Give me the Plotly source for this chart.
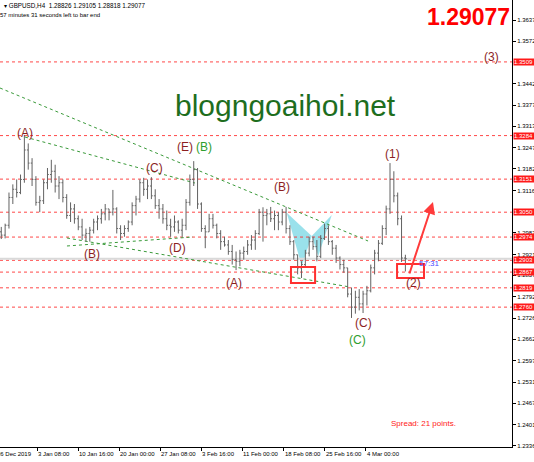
import plotly.graph_objects as go

# ---------------- data ----------------
open_ = [1.2990,1.2980,1.3010,1.3095,1.3120,1.3110,1.3150,1.3240,1.3200,1.3150,
 1.3080,1.3085,1.3140,1.3165,1.3175,1.3130,1.3140,1.3095,1.3040,1.3060,
 1.3030,1.3005,1.2980,1.2985,1.2995,1.3020,1.3030,1.3045,1.3060,1.3050,
 1.3060,1.3000,1.2985,1.3000,1.3020,1.3070,1.3090,1.3140,1.3120,1.3130,
 1.3100,1.3070,1.3060,1.3030,1.3010,1.3005,1.3020,1.2995,1.3010,1.3080,
 1.3150,1.3180,1.3075,1.3000,1.2990,1.3030,1.3010,1.2985,1.2960,1.2950,
 1.2930,1.2905,1.2900,1.2925,1.2930,1.2950,1.2965,1.2985,1.3050,1.3040,
 1.3045,1.3030,1.3040,1.3020,1.3050,1.3000,1.2960,1.2920,1.2880,1.2890,
 1.2925,1.2960,1.2945,1.2915,1.2970,1.3000,1.2960,1.2940,1.2910,1.2890,
 1.2880,1.2800,1.2760,1.2790,1.2770,1.2800,1.2810,1.2880,1.2925,1.2955,
 1.3000,1.3060,1.3150,1.3100,1.3030,1.2910]
high = [1.3005,1.3015,1.3110,1.3135,1.3150,1.3165,1.3286,1.3260,1.3215,1.3160,
 1.3100,1.3150,1.3185,1.3210,1.3195,1.3160,1.3150,1.3105,1.3080,1.3075,
 1.3040,1.3030,1.3000,1.3005,1.3030,1.3040,1.3060,1.3075,1.3060,1.3118,
 1.3065,1.3010,1.3010,1.3025,1.3080,1.3100,1.3150,1.3155,1.3150,1.3157,
 1.3120,1.3090,1.3075,1.3055,1.3030,1.3040,1.3025,1.3030,1.3090,1.3165,
 1.3206,1.3185,1.3080,1.3010,1.3045,1.3045,1.3015,1.2995,1.2975,1.2965,
 1.2950,1.2930,1.2935,1.2945,1.2965,1.2980,1.2995,1.3060,1.3065,1.3060,
 1.3066,1.3055,1.3050,1.3060,1.3066,1.3010,1.2965,1.2920,1.2900,1.2935,
 1.2975,1.2975,1.2965,1.2980,1.3015,1.3010,1.2965,1.2950,1.2915,1.2905,
 1.2880,1.2820,1.2810,1.2815,1.2810,1.2825,1.2890,1.2935,1.2965,1.3010,
 1.3070,1.3200,1.3175,1.3110,1.3040,1.2920]
low = [1.2968,1.2970,1.3000,1.3075,1.3095,1.3105,1.3140,1.3180,1.3130,1.3070,
 1.3050,1.3075,1.3120,1.3140,1.3110,1.3090,1.3080,1.3030,1.3020,1.3015,
 1.2995,1.2965,1.2960,1.2960,1.2985,1.2995,1.3015,1.3025,1.3025,1.3040,
 1.2985,1.2965,1.2975,1.2990,1.3010,1.3040,1.3080,1.3100,1.3090,1.3090,
 1.3060,1.3030,1.3015,1.2995,1.2975,1.2990,1.2985,1.2975,1.2995,1.3070,
 1.3130,1.3060,1.2990,1.2940,1.2990,1.3000,1.2970,1.2935,1.2945,1.2920,
 1.2890,1.2873,1.2885,1.2905,1.2920,1.2935,1.2935,1.2980,1.2960,1.3010,
 1.3020,1.2995,1.2995,1.3010,1.2985,1.2950,1.2905,1.2860,1.2849,1.2885,
 1.2915,1.2935,1.2900,1.2910,1.2965,1.2950,1.2920,1.2895,1.2875,1.2865,
 1.2790,1.2727,1.2740,1.2750,1.2742,1.2765,1.2805,1.2860,1.2900,1.2950,
 1.2980,1.3045,1.3080,1.3010,1.2898,1.2869]
close = [1.2980,1.3010,1.3095,1.3120,1.3110,1.3150,1.3240,1.3200,1.3150,1.3080,
 1.3085,1.3140,1.3165,1.3175,1.3130,1.3140,1.3095,1.3040,1.3060,1.3030,
 1.3005,1.2980,1.2985,1.2995,1.3020,1.3030,1.3045,1.3060,1.3050,1.3060,
 1.3000,1.2985,1.3000,1.3020,1.3070,1.3090,1.3140,1.3120,1.3130,1.3100,
 1.3070,1.3060,1.3030,1.3010,1.3005,1.3020,1.2995,1.3010,1.3080,1.3150,
 1.3180,1.3075,1.3000,1.2990,1.3030,1.3010,1.2985,1.2960,1.2950,1.2930,
 1.2905,1.2900,1.2925,1.2930,1.2950,1.2965,1.2985,1.3050,1.3040,1.3045,
 1.3030,1.3040,1.3020,1.3050,1.3000,1.2960,1.2920,1.2880,1.2890,1.2925,
 1.2960,1.2945,1.2915,1.2970,1.3000,1.2960,1.2940,1.2910,1.2890,1.2880,
 1.2800,1.2760,1.2790,1.2770,1.2800,1.2810,1.2880,1.2925,1.2955,1.3000,
 1.3060,1.3150,1.3100,1.3030,1.2910,1.2908]
# each drawn bar covers 3 H4 bars; x is the H4 bar index
bar_x = list(range(1, 3 * len(close), 3))

time_tick_idx = [-3, 29, 61, 93, 125, 157, 189, 221, 253, 285]
time_tick_lbl = ["26 Dec 2019", "3 Jan 08:00", "10 Jan 16:00", "20 Jan 00:00", "27 Jan 08:00",
                 "3 Feb 16:00", "11 Feb 00:00", "18 Feb 08:00", "25 Feb 16:00", "4 Mar 00:00"]
price_tick_lbl = ["1.3637", "1.3572", "1.3442", "1.3377", "1.3313", "1.3247", "1.3182", "1.3116",
                  "1.2987", "1.2921", "1.2857", "1.2792", "1.2726", "1.2662", "1.2597", "1.2531",
                  "1.2467", "1.2401", "1.2336"]
levels = [1.3509, 1.3284, 1.3151, 1.3050, 1.2974, 1.2903, 1.2867, 1.2819, 1.2760]
bid = 1.29077

wave_lbl = ["(A)", "(B)", "(C)", "(D)", "(E)", "(B)", "(A)", "(B)", "(C)", "(C)", "(1)", "(2)", "(3)"]
wave_x = [19.5, 71.7, 120.8, 138.0, 144.2, 159.0, 182.4, 219.8, 283.0, 278.3, 305.6, 322.0, 383.5]
wave_y = [1.3292, 1.2922, 1.3185, 1.2941, 1.3249, 1.3249, 1.2834, 1.3127, 1.2712, 1.2660, 1.3228, 1.2834, 1.3524]
wave_green = [False, False, False, False, False, True, False, False, False, True, False, False, False]

trend_lines = [((0, 1.34293), (286.9, 1.2962)),
               ((19.5, 1.32796), (152.0, 1.31391)),
               ((52.2, 1.29712), (272.8, 1.28215)),
               ((52.2, 1.29468), (150.5, 1.29743))]
wing_left = [(223.5, 1.30480), (235.2, 1.28850), (243.0, 1.29773)]
wing_right = [(243.0, 1.29773), (248.1, 1.29160), (258.6, 1.30414)]
boxes = [((226.8, 1.28826), (245.6, 1.28337)), ((309.5, 1.28917), (330.5, 1.28490))]
arrow_from = (318.8, 1.28581)
arrow_to = (337.5, 1.30811)

X0, X1 = 0, 399.1
Y0, Y1 = 1.23328, 1.36981

BROWN = "#8c1f1f"
GREEN = "#2e9e2e"
FONT = "Liberation Sans"

fig = go.Figure()

# butterfly wings (background)
for wing in (wing_left, wing_right):
    path = "M " + " L ".join(f"{x},{y}" for x, y in wing) + " Z"
    fig.add_shape(type="path", path=path, fillcolor="rgba(120,215,228,0.75)",
                  line=dict(width=0), layer="below")

# horizontal levels
for lv in levels:
    fig.add_shape(type="line", x0=X0, x1=X1, y0=lv, y1=lv, layer="below",
                  line=dict(color="rgba(255,40,40,0.85)", width=1, dash="3px,3px"))
fig.add_shape(type="line", x0=X0, x1=X1, y0=bid, y1=bid, layer="below",
              line=dict(color="#d9d9d9", width=2))

# green trend lines
for (a, b) in trend_lines:
    fig.add_shape(type="line", x0=a[0], y0=a[1], x1=b[0], y1=b[1], layer="below",
                  line=dict(color="#3a9a3a", width=1, dash="dot"))

fig.add_trace(go.Ohlc(x=bar_x, open=open_, high=high, low=low, close=close,
                      increasing=dict(line=dict(color="#626262", width=1)),
                      decreasing=dict(line=dict(color="#626262", width=1)),
                      tickwidth=0.35, hoverinfo="skip", showlegend=False))

# red boxes
for (a, b) in boxes:
    fig.add_shape(type="rect", x0=a[0], y0=a[1], x1=b[0], y1=b[1],
                  line=dict(color="#ff3030", width=2), fillcolor="rgba(0,0,0,0)")

# arrow
fig.add_annotation(x=arrow_to[0], y=arrow_to[1], ax=arrow_from[0], ay=arrow_from[1],
                   axref="x", ayref="y", xref="x", yref="y", text="", showarrow=True,
                   arrowhead=2, arrowsize=1.2, arrowwidth=2, arrowcolor="#ff3b3b")

# wave labels
for t, x, y, g in zip(wave_lbl, wave_x, wave_y, wave_green):
    fig.add_annotation(x=x, y=y, text=t, showarrow=False,
                       font=dict(family=FONT, size=12, color=GREEN if g else BROWN))

# countdown
fig.add_annotation(x=334.5, y=1.28948, text="57:31", showarrow=False,
                   font=dict(family=FONT, size=8, color="#4a4aff"))

# time labels (left-aligned at the tick, MT4 style)
for ti, tl in zip(time_tick_idx, time_tick_lbl):
    fig.add_annotation(x=(ti - X0) / (X1 - X0), y=0, xref="paper", yref="paper", text=tl,
                       showarrow=False, xanchor="left", yanchor="top", xshift=-1, yshift=-2,
                       font=dict(family=FONT, size=6, color="#000000"))

# price level labels on the axis
for lv in levels:
    fig.add_annotation(x=1, y=lv, xref="paper", yref="y", text=f"{lv:.4f}&nbsp;&nbsp;&nbsp;",
                       showarrow=False, xanchor="left", yanchor="middle", xshift=1,
                       bgcolor="#ff1a1a", borderpad=0,
                       font=dict(family=FONT, size=6, color="#ffffff"))

# header texts
fig.add_annotation(x=0, y=1, xref="paper", yref="paper", xanchor="left", yanchor="top",
                   xshift=2, yshift=0, showarrow=False,
                   text="▾ GBPUSD,H4  1.28826 1.29105 1.28818 1.29077",
                   font=dict(family=FONT, size=6.3, color="#000000"))
fig.add_annotation(x=0, y=1, xref="paper", yref="paper", xanchor="left", yanchor="top",
                   xshift=-2, yshift=-10, showarrow=False,
                   text="57 minutes 31 seconds left to bar end",
                   font=dict(family=FONT, size=6, color="#000000"))
fig.add_annotation(x=1, y=1, xref="paper", yref="paper", xanchor="right", yanchor="top",
                   xshift=0, yshift=-2, showarrow=False, text="<b>1.29077</b>",
                   font=dict(family=FONT, size=23, color="#ff0000"))
fig.add_annotation(x=0.557, y=1.3375, xref="paper", yref="y", showarrow=False,
                   text="blogngoaihoi.net",
                   font=dict(family=FONT, size=30, color="#1e6e1e"))
fig.add_annotation(x=0.895, y=1.2406, xref="paper", yref="y", showarrow=False,
                   text="Spread: 21 points.",
                   font=dict(family=FONT, size=8, color="#ff2020"))

fig.update_layout(
    width=534, height=462, margin=dict(l=0, r=22, t=0, b=15),
    paper_bgcolor="#ffffff", plot_bgcolor="#ffffff", showlegend=False,
    xaxis=dict(range=[X0, X1], showgrid=False, zeroline=False, rangeslider=dict(visible=False),
               tickmode="array", tickvals=time_tick_idx, ticktext=[""] * len(time_tick_idx),
               ticks="outside", ticklen=3, tickcolor="#000", showline=True, linecolor="#000",
               linewidth=1, fixedrange=True, automargin=False),
    yaxis=dict(range=[Y0, Y1], side="right", showgrid=False, zeroline=False,
               tickmode="array", tickvals=[float(v) for v in price_tick_lbl], ticktext=price_tick_lbl,
               ticks="outside", ticklen=3, tickcolor="#000", showline=True, linecolor="#000",
               linewidth=1, tickfont=dict(family=FONT, size=6, color="#000"),
               fixedrange=True, automargin=False),
)

fig.write_html("out.html", config={"displayModeBar": False},
               post_script="document.body.style.margin='0';document.body.style.overflow='hidden';")
